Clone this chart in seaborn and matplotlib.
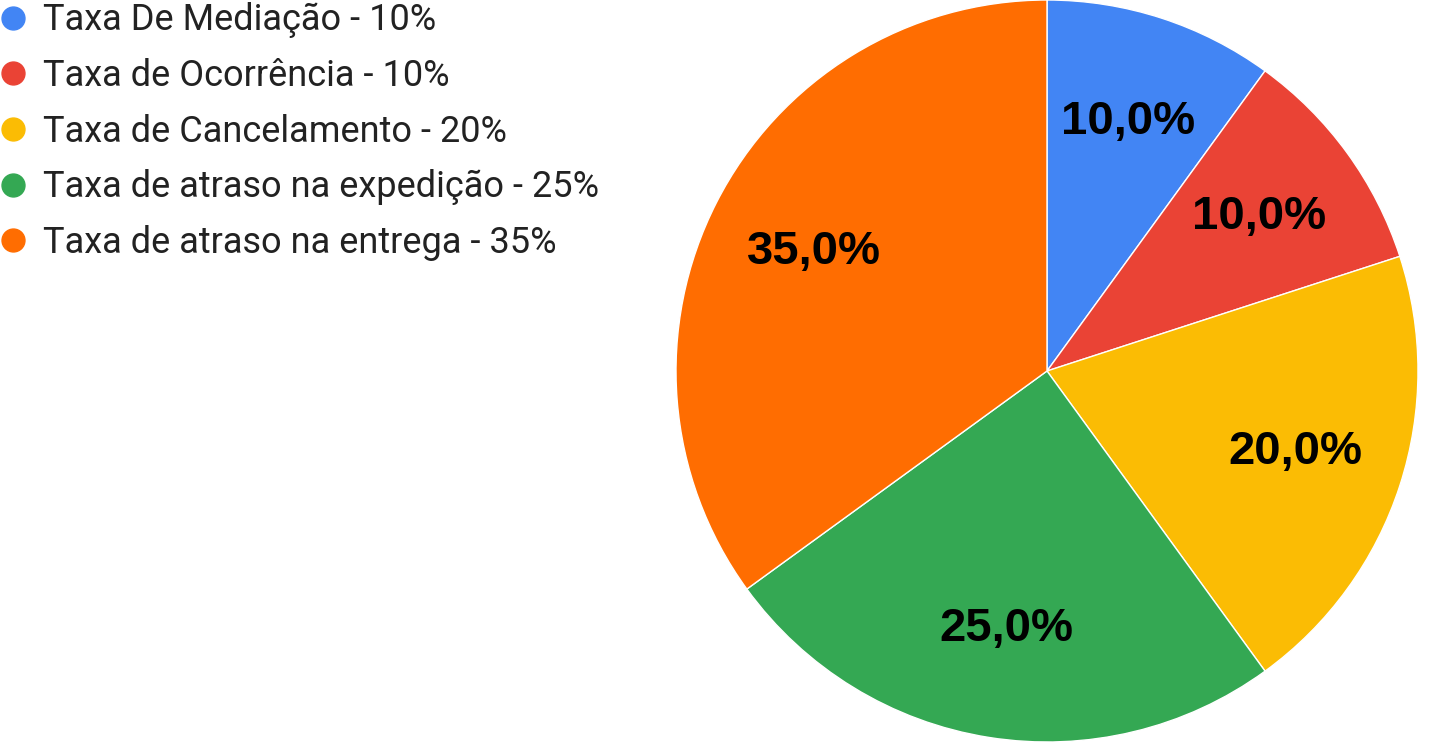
import matplotlib.pyplot as plt
from matplotlib.lines import Line2D
import seaborn as sns

categories = [
    "Taxa De Mediação",
    "Taxa de Ocorrência",
    "Taxa de Cancelamento",
    "Taxa de atraso na expedição",
    "Taxa de atraso na entrega",
]
values = [10, 10, 20, 25, 35]
colors = ["#4285F4", "#EA4335", "#FBBC04", "#34A853", "#FF6D01"]

sns.set_theme(style="white")
plt.rcParams["font.family"] = ["Liberation Sans", "DejaVu Sans"]

fig = plt.figure(figsize=(14.4, 7.42), dpi=100)
ax = fig.add_axes([676 / 1440, 0, 742 / 1440, 1])

wedges, texts, autotexts = ax.pie(
    values,
    colors=colors,
    startangle=90,
    counterclock=False,
    radius=1,
    autopct=lambda p: f"{p:.1f}%".replace(".", ","),
    pctdistance=0.705,
    wedgeprops=dict(edgecolor="white", linewidth=1),
    textprops=dict(fontsize=34, fontweight="bold", color="black"),
)
ax.set_xlim(-1, 1)
ax.set_ylim(-1, 1)
ax.set_aspect("equal")

handles = [
    Line2D([], [], marker="o", linestyle="", markersize=16.5,
           markerfacecolor=c, markeredgecolor=c)
    for c in colors
]
labels = [f"{c} - {v}%" for c, v in zip(categories, values)]
fig.legend(
    handles, labels,
    loc="upper left", bbox_to_anchor=(0.0, 0.997),
    frameon=False, prop=dict(family=["Roboto", "DejaVu Sans"], size=26),
    handlelength=0.7, handletextpad=0.5,
    labelspacing=0.545, borderaxespad=0, borderpad=0,
    labelcolor="#222222",
)

fig.savefig("out.png", dpi=100)
